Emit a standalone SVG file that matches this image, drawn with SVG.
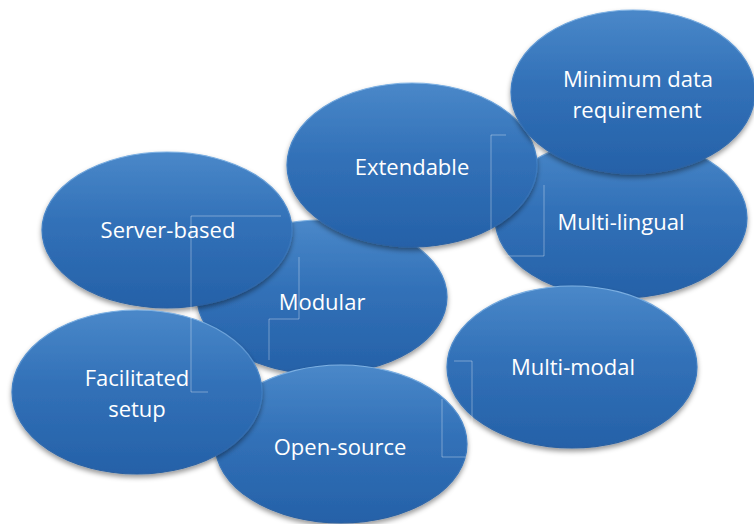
<svg xmlns="http://www.w3.org/2000/svg" width="754" height="524" viewBox="0 0 754 524">
<defs>
<linearGradient id="g" x1="0" y1="0" x2="0" y2="1">
<stop offset="0" stop-color="#4a88c9"/>
<stop offset="0.45" stop-color="#3271b8"/>
<stop offset="1" stop-color="#2561a8"/>
</linearGradient>
<linearGradient id="rim" x1="0" y1="0" x2="0" y2="1">
<stop offset="0" stop-color="#7fb2e4"/>
<stop offset="0.5" stop-color="#3d7cc1"/>
<stop offset="1" stop-color="#2a5f9f"/>
</linearGradient>
<filter id="sh" x="-10%" y="-10%" width="120%" height="125%">
<feDropShadow dx="0" dy="3" stdDeviation="2.5" flood-color="#000" flood-opacity="0.4"/>
</filter>
</defs>
<style>
.n ellipse{fill:url(#g);stroke:url(#rim);stroke-width:1.2;filter:url(#sh)}
.n text{font-family:"Open Sans","Liberation Sans",sans-serif;font-size:22px;fill:#fff;text-anchor:middle}
.ln{fill:none;stroke:#fff;stroke-opacity:0.35;stroke-width:1}
</style>
<rect width="754" height="524" fill="#fff"/>
<g id="modular" class="n"><ellipse cx="322" cy="297" rx="125" ry="77"/><text x="322" y="310">Modular</text></g>
<g id="multi-lingual" class="n"><ellipse cx="621" cy="218" rx="126" ry="80"/><text x="621" y="230">Multi-lingual</text></g>
<g id="multi-modal" class="n"><ellipse cx="572" cy="367" rx="125" ry="81"/><text x="573" y="375">Multi-modal</text></g>
<g id="server-based" class="n"><ellipse cx="167" cy="230" rx="125" ry="78"/><text x="168" y="238">Server-based</text></g>
<g id="extendable" class="n"><ellipse cx="412" cy="165" rx="125" ry="82"/><text x="412" y="175">Extendable</text></g>
<g id="minimum-data" class="n"><ellipse cx="633" cy="92" rx="122" ry="82"/><text x="638" y="87">Minimum data</text><text x="637" y="118">requirement</text></g>
<g id="open-source" class="n"><ellipse cx="341" cy="444" rx="126" ry="79"/><text x="340" y="455">Open-source</text></g>
<g id="facilitated-setup" class="n"><ellipse cx="137" cy="392" rx="125" ry="82"/><text x="137" y="386">Facilitated</text><text x="137" y="417">setup</text></g>
<g id="connectors">
<polyline class="ln" points="281,216 191,216 191,392 208,392"/>
<polyline class="ln" points="299,257 299,319 269,319 269,360"/>
<polyline class="ln" points="454,361 472,361 472,462"/>
<polyline class="ln" points="442,399 442,457 466,457"/>
<polyline class="ln" points="506,135 491,135 491,255"/>
<polyline class="ln" points="503,256 544,256 544,185"/>
</g>
</svg>
